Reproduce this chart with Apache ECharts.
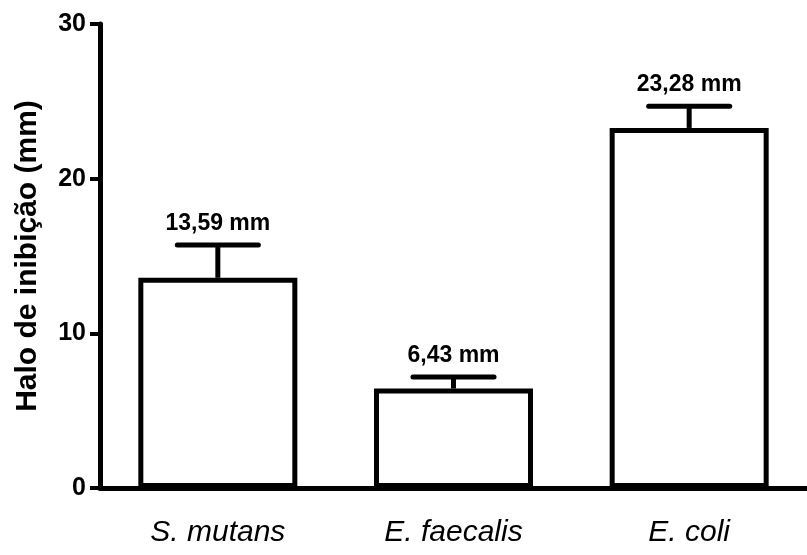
<!DOCTYPE html>
<html>
<head>
<meta charset="utf-8">
<script src="https://cdn.jsdelivr.net/npm/echarts@6/dist/echarts.min.js"></script>
<style>
html,body{margin:0;padding:0;background:#fff;}
#chart{width:807px;height:555px;}
</style>
</head>
<body>
<div id="chart"></div>
<script>
var categories = ["S. mutans", "E. faecalis", "E. coli"];
var means = [13.59, 6.43, 23.28];
var errors = [2.12, 0.75, 1.41];
var yTicks = [0, 10, 20, 30];
var yTitle = "Halo de inibição (mm)";

var FONT = "'Liberation Sans', Arial, sans-serif";

function fmt(v) { return v.toFixed(2).replace('.', ',') + ' mm'; }

var errData = categories.map(function (c, i) { return [i, means[i], errors[i]]; });

var chart = echarts.init(document.getElementById('chart'), null, {renderer: 'canvas'});
chart.setOption({
  animation: false,
  backgroundColor: '#ffffff',
  grid: {left: 100, right: -10, top: 24, bottom: 67, containLabel: false},
  xAxis: {
    type: 'category',
    data: categories,
    axisLine: {show: true, lineStyle: {color: '#000', width: 5}},
    axisTick: {show: false},
    axisLabel: {color: '#000', fontFamily: FONT, fontStyle: 'italic', fontSize: 30, margin: 30}
  },
  yAxis: {
    type: 'value',
    min: yTicks[0],
    max: yTicks[yTicks.length - 1],
    interval: 10,
    name: yTitle,
    nameLocation: 'middle',
    nameGap: 57,
    nameTextStyle: {color: '#000', fontFamily: FONT, fontWeight: 'bold', fontSize: 30},
    axisLine: {show: true, lineStyle: {color: '#000', width: 5}},
    axisTick: {show: true, length: 10, lineStyle: {color: '#000', width: 4}},
    axisLabel: {color: '#000', fontFamily: FONT, fontWeight: 'bold', fontSize: 25, margin: 14},
    splitLine: {show: false}
  },
  series: [
    {
      type: 'bar',
      data: means,
      barWidth: 159,
      itemStyle: {color: '#ffffff', borderColor: '#000000', borderWidth: 5},
      z: 3
    },
    {
      type: 'custom',
      data: errData,
      z: 4,
      renderItem: function (params, api) {
        var idx = api.value(0), m = api.value(1), e = api.value(2);
        var base = api.coord([idx, m]);
        var top = api.coord([idx, m + e]);
        var band = api.size([1, 0])[0];
        var half = band * 0.172;
        return {
          type: 'group',
          children: [
            {type: 'line', shape: {x1: base[0], y1: base[1], x2: top[0], y2: top[1]},
             style: {stroke: '#000', lineWidth: 5}},
            {type: 'line', shape: {x1: top[0] - half, y1: top[1], x2: top[0] + half, y2: top[1]},
             style: {stroke: '#000', lineWidth: 5, lineCap: 'round'}},
            {type: 'text', x: top[0], y: top[1] - 10,
             style: {text: fmt(m), fill: '#000', font: 'bold 23px ' + FONT, textAlign: 'center', textVerticalAlign: 'bottom'}}
          ]
        };
      }
    }
  ]
});
</script>
</body>
</html>
